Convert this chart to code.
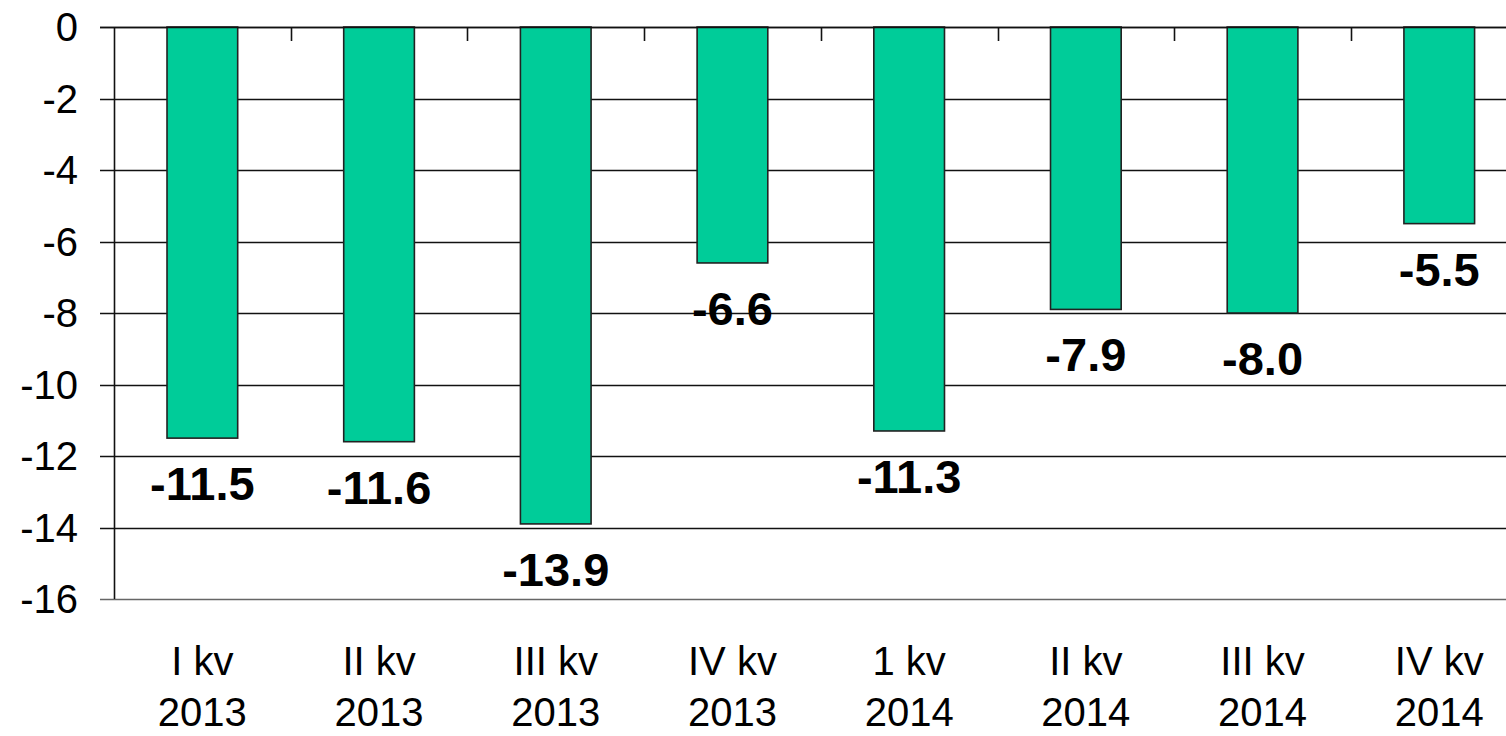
<!DOCTYPE html>
<html>
<head>
<meta charset="utf-8">
<script src="https://cdn.jsdelivr.net/npm/d3@7"></script>
<style>
  body { margin: 0; background: #fff; }
  svg { display: block; font-family: Arial, "Liberation Sans", sans-serif; }
</style>
</head>
<body>
<div id="chart"></div>
<script>
const quarters = ["I kv", "II kv", "III kv", "IV kv", "1 kv", "II kv", "III kv", "IV kv"];
const years = ["2013", "2013", "2013", "2013", "2014", "2014", "2014", "2014"];
const values = [-11.5, -11.6, -13.9, -6.6, -11.3, -7.9, -8.0, -5.5];
const yTicks = [0, -2, -4, -6, -8, -10, -12, -14, -16];

const width = 1506;
const height = 736;
const margin = { top: 27, left: 114, bottom: 137 };

const data = values.map((v, i) => ({ i, q: quarters[i], year: years[i], value: v }));

// plot runs off the right edge of the picture
const x = d3
  .scaleBand()
  .domain(d3.range(values.length))
  .range([margin.left, margin.left + 8 * 176.7])
  .paddingInner(0.6)
  .paddingOuter(0.3);

const y = d3
  .scaleLinear()
  .domain([0, -16])
  .range([margin.top, height - margin.bottom]);

const fmt = (v) => v.toFixed(1);

const svg = d3
  .select("#chart")
  .append("svg")
  .attr("width", width)
  .attr("height", height);

// grid lines
svg
  .append("g")
  .selectAll("line")
  .data(yTicks)
  .join("line")
  .attr("x1", margin.left - 14)
  .attr("x2", width)
  .attr("y1", (d) => Math.round(y(d)) + 0.5)
  .attr("y2", (d) => Math.round(y(d)) + 0.5)
  .attr("stroke", (d) => (d === -16 ? "#666" : "#111"))
  .attr("stroke-width", 1.6);

// y labels
svg
  .append("g")
  .selectAll("text")
  .data(yTicks)
  .join("text")
  .attr("x", 78)
  .attr("y", (d) => y(d))
  .attr("dy", "0.35em")
  .attr("text-anchor", "end")
  .attr("font-size", 40)
  .attr("fill", "#000")
  .text((d) => d);

// bars
svg
  .append("g")
  .selectAll("rect")
  .data(data)
  .join("rect")
  .attr("x", (d) => x(d.i))
  .attr("y", y(0))
  .attr("width", x.bandwidth())
  .attr("height", (d) => y(d.value) - y(0))
  .attr("fill", "#00cc99")
  .attr("stroke", "#222")
  .attr("stroke-width", 1.6);

// y axis line
svg
  .append("line")
  .attr("x1", margin.left + 0.5)
  .attr("x2", margin.left + 0.5)
  .attr("y1", y(0))
  .attr("y2", y(-16))
  .attr("stroke", "#111")
  .attr("stroke-width", 1.6);

// category ticks hanging from the zero line
const step = x.step();
svg
  .append("g")
  .selectAll("line")
  .data(d3.range(1, values.length))
  .join("line")
  .attr("x1", (d) => Math.round(x(d) - step * x.paddingInner() / 2) + 0.5)
  .attr("x2", (d) => Math.round(x(d) - step * x.paddingInner() / 2) + 0.5)
  .attr("y1", y(0))
  .attr("y2", y(0) + 14)
  .attr("stroke", "#111")
  .attr("stroke-width", 1.6);

// zero line on top
svg
  .append("line")
  .attr("x1", margin.left - 14)
  .attr("x2", width)
  .attr("y1", Math.round(y(0)) + 0.5)
  .attr("y2", Math.round(y(0)) + 0.5)
  .attr("stroke", "#111")
  .attr("stroke-width", 1.6);

// value labels
svg
  .append("g")
  .selectAll("text")
  .data(data)
  .join("text")
  .attr("x", (d) => x(d.i) + x.bandwidth() / 2)
  .attr("y", (d) => y(d.value) + 62)
  .attr("text-anchor", "middle")
  .attr("font-size", 47)
  .attr("font-weight", "bold")
  .attr("fill", "#000")
  .text((d) => fmt(d.value));

// category labels
const cat = svg
  .append("g")
  .selectAll("text")
  .data(data)
  .join("text")
  .attr("text-anchor", "middle")
  .attr("font-size", 40)
  .attr("fill", "#000");

cat
  .append("tspan")
  .attr("x", (d) => x(d.i) + x.bandwidth() / 2)
  .attr("y", 675)
  .text((d) => d.q);

cat
  .append("tspan")
  .attr("x", (d) => x(d.i) + x.bandwidth() / 2)
  .attr("y", 726)
  .text((d) => d.year);
</script>
</body>
</html>
